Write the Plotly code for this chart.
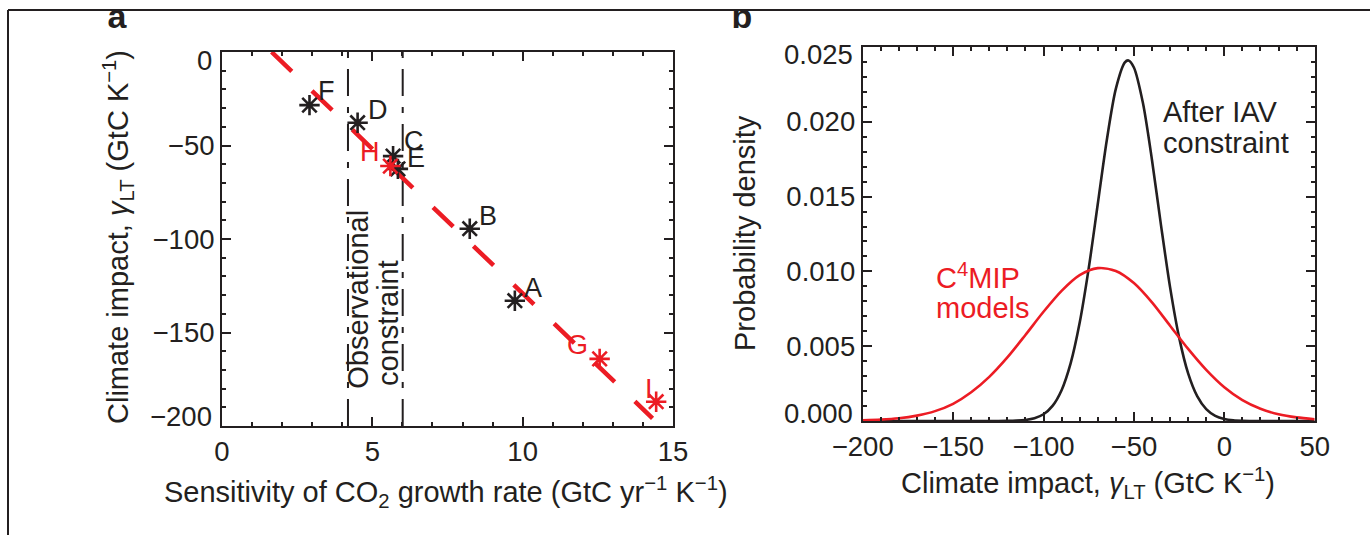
import plotly.graph_objects as go

# ---------------- data ----------------
# Panel a: C4MIP models, sensitivity of CO2 growth rate vs long-term climate impact
black_models = ["A", "B", "C", "D", "E", "F"]
black_sens = [9.74, 8.24, 5.69, 4.51, 5.85, 2.91]
black_gamma = [-133.0, -94.5, -55.7, -37.8, -62.5, -28.4]

red_models = ["G", "H", "I"]
red_sens = [12.56, 5.60, 14.44]
red_gamma = [-164.1, -61.0, -187.0]

# linear regression across the models
fit_slope = -15.46
fit_intercept = 25.5
fit_x_end = 14.32

# observed interannual-variability constraint (GtC yr-1 K-1)
obs_constraint = [4.19, 6.01]

# axis ticks
a_xticks = [0, 5, 10, 15]
a_yticks = [-200, -150, -100, -50, 0]
b_xticks = [-200, -150, -100, -50, 0, 50]
b_yticks = [0.0, 0.005, 0.010, 0.015, 0.020, 0.025]

# Panel b: probability densities of gamma_LT
gamma_red = [-200, -190, -180, -170, -160, -150, -140, -130, -120, -110, -100,
             -90, -80, -70, -60, -50, -40, -30, -20, -10, 0, 10, 20, 30, 40, 50]
pdf_c4mip = [0.00005, 0.00009, 0.00018, 0.00036, 0.00066, 0.00115, 0.00192,
             0.00295, 0.00425, 0.00575, 0.00730, 0.00870, 0.00975, 0.01022,
             0.01003, 0.00922, 0.00793, 0.00637, 0.00482, 0.00342, 0.00226,
             0.00140, 0.00082, 0.00045, 0.00024, 0.00012]

gamma_black = [-200, -150, -125, -120, -115, -110, -105, -100, -95, -90, -85, -80,
               -75, -70, -65, -60, -55, -53, -50, -45, -40, -35, -30, -25, -20,
               -15, -10, -5, 0, 5, 10, 20, 50]
pdf_iav = [0.0, 0.0, 0.000002, 0.000007, 0.000023, 0.000068, 0.000183, 0.00045,
           0.00101, 0.00206, 0.00385, 0.00656, 0.0102, 0.01449, 0.01877, 0.0222,
           0.02397, 0.02410, 0.02363, 0.02125, 0.01745, 0.01308, 0.00895, 0.00559,
           0.00318, 0.00166, 0.00079, 0.00034, 0.000135, 0.000049, 0.000016, 0.0, 0.0]

# ---------------- styling ----------------
W, H = 1370, 535
RED = "#ec1c24"
INK = "#231f20"
FONT = "Liberation Sans, Arial, Helvetica, sans-serif"
TICK_FS = 27.5
TEXT_FS = 29
LABEL_FS = 27

def px_x(p):
    return p / W

def px_y(p):
    return 1 - p / H

def fmt_int(v):
    return f"{v:d}".replace("-", "−")

# plot-area boxes in page pixels
A_BOX = dict(x0=222, x1=673, y0=52, y1=426)
B_BOX = dict(x0=862.7, x1=1314.7, y0=47, y1=421)

fig = go.Figure()

# observational constraint bounds
for xb in obs_constraint:
    fig.add_trace(go.Scatter(
        x=[xb, xb], y=[a_yticks[0], a_yticks[-1]], mode="lines",
        line=dict(color=INK, width=2, dash="27px,11px,6px,11px"),
        xaxis="x", yaxis="y", hoverinfo="skip", showlegend=False))

# regression line
fit_x0 = -fit_intercept / fit_slope
fit_x = [fit_x0, fit_x_end]
fit_y = [fit_intercept + fit_slope * v for v in fit_x]
fig.add_trace(go.Scatter(
    x=fit_x, y=fit_y, mode="lines",
    line=dict(color=RED, width=4.5, dash="28px,28px"),
    xaxis="x", yaxis="y", showlegend=False))

# model points
fig.add_trace(go.Scatter(
    x=black_sens, y=black_gamma, mode="markers",
    marker=dict(symbol="asterisk-open", size=17, color=INK,
                line=dict(color=INK, width=2.6)),
    xaxis="x", yaxis="y", showlegend=False))
fig.add_trace(go.Scatter(
    x=red_sens, y=red_gamma, mode="markers",
    marker=dict(symbol="asterisk-open", size=17, color=RED,
                line=dict(color=RED, width=2.6)),
    xaxis="x", yaxis="y", showlegend=False))

# label offsets (px) for each model letter
label_shift = {"A": (18, 13), "B": (18, 13), "C": (21, 15), "D": (20, 13),
               "E": (18, 11), "F": (17, 14), "G": (-22, 14), "H": (-20, 14),
               "I": (-7, 13)}

annotations = []
for names, xs, ys, col in [(black_models, black_sens, black_gamma, INK),
                           (red_models, red_sens, red_gamma, RED)]:
    for n, xv, yv in zip(names, xs, ys):
        dx, dy = label_shift[n]
        annotations.append(dict(
            x=xv, y=yv, xref="x", yref="y", text=n, showarrow=False,
            xshift=dx, yshift=dy, font=dict(family=FONT, size=LABEL_FS, color=col)))

# rotated annotation for the constraint band, one line at a time
annotations += [
    dict(x=4.52, y=-132.0, xref="x", yref="y", text="Observational",
         textangle=-90, showarrow=False, xanchor="center", yanchor="middle",
         font=dict(family=FONT, size=TEXT_FS, color=INK)),
    dict(x=5.52, y=-144.9, xref="x", yref="y", text="constraint",
         textangle=-90, showarrow=False, xanchor="center", yanchor="middle",
         font=dict(family=FONT, size=TEXT_FS, color=INK)),
]

# end tick labels sit just inside the plot box
def end_label(text, xref_px, yref, yval, yshift):
    return dict(x=px_x(xref_px), y=yval, xref="paper", yref=yref, text=text,
                showarrow=False, xanchor="right", yanchor="middle", xshift=-9,
                yshift=yshift, borderpad=0,
                font=dict(family=FONT, size=TICK_FS, color=INK))

annotations += [
    end_label(fmt_int(a_yticks[-1]), A_BOX["x0"], "y", a_yticks[-1], -8),
    end_label(fmt_int(a_yticks[0]), A_BOX["x0"], "y", a_yticks[0], 10),
    end_label(f"{b_yticks[-1]:.3f}", B_BOX["x0"], "y2", b_yticks[-1], -8),
    end_label(f"{b_yticks[0]:.3f}", B_BOX["x0"], "y2", b_yticks[0], 8),
]

# panel b curves
fig.add_trace(go.Scatter(
    x=gamma_black, y=pdf_iav, mode="lines",
    line=dict(color=INK, width=2.6, shape="spline", smoothing=0.8),
    xaxis="x2", yaxis="y2", showlegend=False))
fig.add_trace(go.Scatter(
    x=gamma_red, y=pdf_c4mip, mode="lines",
    line=dict(color=RED, width=2.6, shape="spline", smoothing=0.8),
    xaxis="x2", yaxis="y2", showlegend=False))

def note(text, x, y, color):
    return dict(x=px_x(x), y=px_y(y), xref="paper", yref="paper", xanchor="left",
                yanchor="middle", showarrow=False, text=text,
                font=dict(family=FONT, size=TEXT_FS, color=color))

annotations += [
    note("After IAV", 1161, 112, INK),
    note("constraint", 1161, 143, INK),
    note("C<sup>4</sup>MIP", 934, 276, RED),
    note("models", 934, 308, RED),
    # axis titles
    dict(x=px_x(446), y=px_y(492), xref="paper", yref="paper", showarrow=False,
         xanchor="center", yanchor="middle",
         text="Sensitivity of CO<sub>2</sub> growth rate (GtC yr<sup>−1</sup> K<sup>−1</sup>)",
         font=dict(family=FONT, size=TEXT_FS, color=INK)),
    dict(x=px_x(118), y=px_y(237), xref="paper", yref="paper", showarrow=False,
         xanchor="center", yanchor="middle", textangle=-90,
         text="Climate impact, <i>γ</i><sub>LT</sub> (GtC K<sup>−1</sup>)",
         font=dict(family=FONT, size=TEXT_FS, color=INK)),
    dict(x=px_x(1088), y=px_y(483), xref="paper", yref="paper", showarrow=False,
         xanchor="center", yanchor="middle",
         text="Climate impact, <i>γ</i><sub>LT</sub> (GtC K<sup>−1</sup>)",
         font=dict(family=FONT, size=TEXT_FS, color=INK)),
    dict(x=px_x(745), y=px_y(233), xref="paper", yref="paper", showarrow=False,
         xanchor="center", yanchor="middle", textangle=-90,
         text="Probability density",
         font=dict(family=FONT, size=TEXT_FS, color=INK)),
]

# panel letters, clipped by the figure frame
fig.add_trace(go.Scatter(
    x=[117, 742], y=[9.5, 9.5], mode="text", text=["<b>a</b>", "<b>b</b>"],
    textposition="middle center", cliponaxis=True,
    textfont=dict(family=FONT, size=34, color=INK),
    xaxis="x3", yaxis="y3", hoverinfo="skip", showlegend=False))


def axis_style(**kw):
    base = dict(showline=True, linecolor=INK, linewidth=2, mirror="ticks",
                ticks="inside", ticklen=9, tickwidth=2, tickcolor=INK,
                showgrid=False, zeroline=False, automargin=False,
                tickfont=dict(family=FONT, size=TICK_FS, color=INK))
    base.update(kw)
    return base

minor_style = dict(ticks="inside", ticklen=4, tickwidth=1.5, tickcolor=INK)

fig.update_layout(
    template="none",
    width=W, height=H, autosize=False,
    margin=dict(l=0, r=0, t=0, b=0, pad=0, autoexpand=False),
    paper_bgcolor="white", plot_bgcolor="rgba(0,0,0,0)",
    showlegend=False,
    xaxis=axis_style(domain=[px_x(A_BOX["x0"]), px_x(A_BOX["x1"])], anchor="y",
                     range=[a_xticks[0], a_xticks[-1]], tickvals=a_xticks,
                     minor=dict(minor_style, dtick=1)),
    yaxis=axis_style(domain=[px_y(A_BOX["y1"]), px_y(A_BOX["y0"])], anchor="x",
                     range=[a_yticks[0], a_yticks[-1]], tickvals=a_yticks,
                     ticktext=[""] + [fmt_int(v) for v in a_yticks[1:-1]] + [""],
                     minor=dict(minor_style, dtick=10)),
    xaxis2=axis_style(domain=[px_x(B_BOX["x0"]), px_x(B_BOX["x1"])], anchor="y2",
                      range=[b_xticks[0], b_xticks[-1]], tickvals=b_xticks,
                      minor=dict(minor_style, dtick=10)),
    yaxis2=axis_style(domain=[px_y(B_BOX["y1"]), px_y(B_BOX["y0"])], anchor="x2",
                      range=[b_yticks[0], b_yticks[-1]], tickvals=b_yticks,
                      ticktext=[""] + [f"{v:.3f}" for v in b_yticks[1:-1]] + [""],
                      minor=dict(minor_style, dtick=0.001)),
    xaxis3=dict(domain=[0, 1], range=[0, W], visible=False, anchor="y3",
                fixedrange=True),
    yaxis3=dict(domain=[0, px_y(10)], range=[H - 10, 0], visible=False, anchor="x3",
                fixedrange=True),
    annotations=annotations,
    shapes=[
        dict(type="line", xref="paper", yref="paper", x0=px_x(8), x1=1,
             y0=px_y(10), y1=px_y(10), line=dict(color=INK, width=2)),
        dict(type="line", xref="paper", yref="paper", x0=px_x(8), x1=px_x(8),
             y0=px_y(10), y1=0, line=dict(color=INK, width=2)),
    ],
)

fig.write_html("out.html")
